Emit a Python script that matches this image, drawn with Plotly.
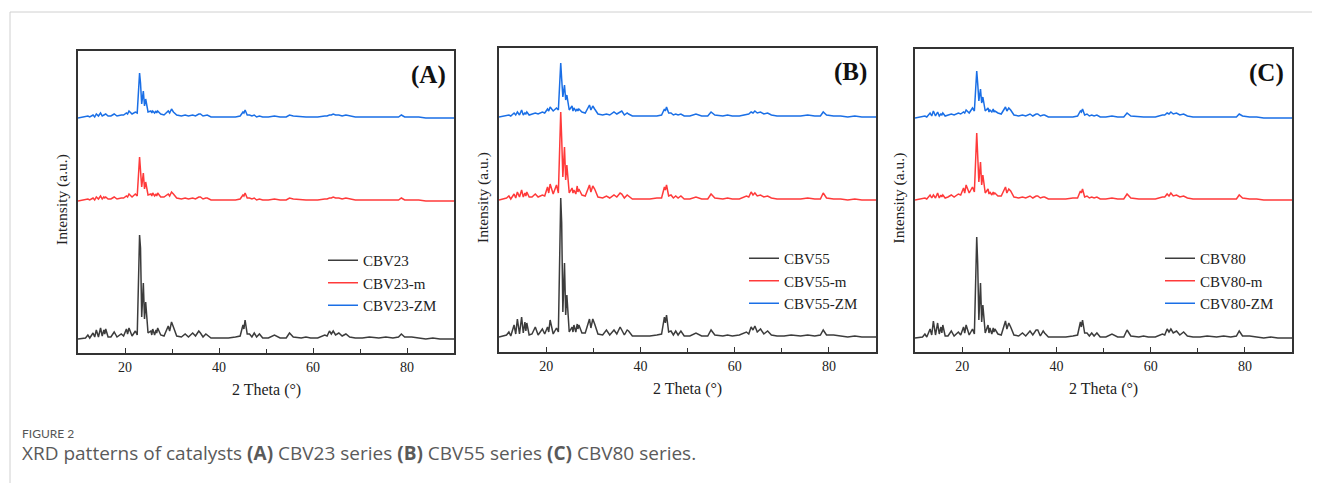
import plotly.graph_objects as go

# the page body adds an 8px margin, so the figure is drawn 8px smaller
PAGE_OFF = 8
W, H = 1320 - PAGE_OFF, 483 - PAGE_OFF

# 2-theta grid (degrees)
theta = [10.0, 11.6, 12.1, 12.5, 13.2, 13.55, 13.9, 14.35, 14.8, 15.15,
         15.5, 15.7, 15.9, 16.4, 17.0, 17.7, 18.3, 19.2, 19.7, 20.3,
         20.55, 20.85, 21.5, 22.2, 22.6, 23.1, 23.3, 23.55, 23.9, 24.15,
         24.4, 24.9, 25.5, 25.7, 25.9, 26.3, 26.6, 26.75, 26.95, 27.6,
         28.3, 29.2, 29.5, 29.9, 30.3, 31.0, 32.0, 32.8, 33.5, 34.4,
         35.0, 35.7, 36.05, 36.6, 37.2, 37.5, 38.3, 40.0, 42.0, 43.5,
         44.5, 45.1, 45.3, 45.55, 46.0, 46.5, 47.0, 47.5, 48.0, 48.6,
         49.3, 50.5, 51.8, 53.0, 54.3, 55.0, 55.8, 57.5, 58.5, 59.5,
         61.0, 62.5, 63.0, 63.5, 63.9, 64.3, 64.8, 65.5, 66.2, 67.0,
         67.8, 69.0, 70.5, 72.0, 74.0, 75.5, 77.0, 78.2, 78.8, 79.5,
         81.0, 82.5, 84.0, 85.5, 87.0, 90.0]

# intensities above each pattern's baseline (a.u.)
cbv23 = [0, 1, 4, 1, 6, 2, 9, 2, 11, 3,
         9, 5, 10, 2, 2, 7, 2, 5, 3, 10,
         5, 11, 3, 8, 4, 104, 91, 22, 56, 20,
         37, 6, 8, 4, 10, 4, 9, 6, 11, 4,
         3, 13, 8, 17, 12, 3, 2, 5, 2, 6,
         3, 8, 6, 2, 5, 4, 1, 1, 1, 2,
         3, 14, 10, 19, 5, 5, 2, 6, 2, 5,
         1, 1, 4, 1, 1, 6, 2, 1, 2, 1,
         1, 4, 3, 8, 5, 8, 4, 6, 3, 5,
         2, 1, 1, 2, 1, 2, 1, 2, 5, 2,
         2, 1, 0, 1, 0, 0]
cbv23_m = [0, 1, 2, 1, 3, 1, 4, 2, 5, 2,
           4, 3, 4, 2, 2, 4, 2, 3, 3, 5,
           4, 7, 4, 7, 5, 44, 34, 14, 28, 12,
           19, 6, 7, 5, 8, 5, 7, 5, 8, 4,
           4, 7, 5, 9, 7, 3, 2, 3, 2, 3,
           2, 4, 4, 2, 3, 3, 1, 1, 1, 1,
           2, 6, 5, 8, 3, 3, 2, 3, 1, 2,
           1, 1, 2, 1, 1, 3, 2, 1, 1, 1,
           1, 2, 2, 3, 3, 4, 3, 3, 2, 3,
           2, 1, 1, 1, 1, 1, 1, 1, 3, 1,
           1, 1, 0, 0, 0, 0]
cbv23_zm = [0, 1, 2, 1, 3, 1, 4, 2, 5, 2,
            3, 3, 4, 2, 2, 4, 2, 3, 3, 5,
            4, 7, 4, 6, 5, 45, 35, 14, 27, 12,
            19, 6, 7, 5, 7, 5, 7, 5, 7, 4,
            3, 7, 5, 9, 6, 3, 2, 3, 2, 3,
            2, 4, 4, 2, 3, 3, 1, 1, 1, 1,
            2, 6, 5, 8, 3, 3, 2, 3, 1, 2,
            1, 1, 2, 1, 1, 3, 2, 1, 1, 1,
            1, 2, 2, 3, 3, 4, 3, 3, 2, 3,
            2, 1, 1, 1, 1, 1, 1, 1, 3, 1,
            1, 1, 0, 0, 0, 0]

cbv55 = [0, 2, 5, 1, 12, 3, 18, 3, 20, 4,
         15, 6, 14, 2, 3, 10, 2, 8, 3, 10,
         5, 17, 3, 9, 5, 139, 114, 25, 74, 22,
         42, 5, 10, 5, 12, 5, 13, 8, 12, 4,
         4, 18, 9, 18, 13, 3, 2, 7, 2, 7,
         3, 10, 7, 2, 7, 6, 1, 1, 1, 2,
         3, 20, 14, 22, 5, 6, 2, 6, 2, 6,
         1, 1, 4, 1, 1, 7, 2, 1, 2, 1,
         2, 5, 3, 10, 7, 11, 5, 8, 3, 6,
         2, 1, 1, 2, 1, 2, 1, 2, 7, 2,
         2, 1, 0, 1, 0, 0]
cbv55_m = [0, 2, 4, 1, 6, 2, 8, 3, 10, 3,
           7, 4, 8, 3, 3, 6, 3, 5, 4, 13,
           7, 16, 6, 15, 7, 88, 62, 23, 53, 20,
           35, 7, 12, 7, 10, 6, 14, 8, 11, 5,
           4, 15, 8, 14, 11, 3, 2, 4, 2, 5,
           3, 7, 6, 2, 5, 4, 1, 1, 1, 2,
           2, 13, 10, 15, 4, 5, 2, 4, 2, 4,
           1, 1, 3, 1, 1, 6, 2, 1, 2, 1,
           1, 4, 3, 8, 5, 7, 4, 5, 3, 4,
           2, 1, 1, 1, 1, 2, 1, 1, 7, 2,
           1, 1, 0, 1, 0, 0]
cbv55_zm = [0, 1, 2, 1, 4, 2, 5, 2, 7, 2,
            4, 3, 5, 2, 3, 4, 3, 5, 4, 8,
            6, 10, 6, 9, 7, 54, 38, 20, 32, 17,
            22, 7, 11, 6, 9, 6, 8, 6, 8, 5,
            4, 12, 7, 11, 8, 3, 2, 3, 2, 5,
            3, 5, 6, 2, 4, 3, 1, 1, 1, 1,
            2, 8, 6, 10, 4, 4, 2, 3, 2, 3,
            1, 1, 3, 1, 1, 5, 2, 1, 2, 1,
            1, 3, 3, 5, 4, 6, 4, 5, 3, 4,
            2, 1, 1, 1, 1, 2, 1, 1, 5, 2,
            1, 1, 0, 1, 0, 0]

cbv80 = [0, 1, 4, 1, 9, 3, 17, 3, 15, 4,
         11, 5, 13, 2, 2, 7, 2, 6, 3, 11,
         5, 13, 3, 9, 4, 101, 75, 18, 55, 16,
         33, 5, 13, 5, 10, 4, 10, 6, 9, 4,
         3, 17, 9, 15, 11, 3, 2, 5, 2, 7,
         3, 8, 8, 2, 7, 5, 1, 1, 1, 2,
         3, 16, 11, 18, 5, 5, 2, 5, 2, 5,
         1, 1, 4, 1, 1, 8, 2, 1, 2, 1,
         1, 4, 3, 9, 6, 9, 5, 7, 3, 6,
         2, 1, 1, 2, 1, 2, 1, 2, 7, 2,
         2, 1, 0, 1, 0, 0]
cbv80_m = [0, 1, 2, 1, 5, 2, 5, 2, 7, 2,
           5, 3, 5, 2, 3, 5, 3, 6, 5, 12,
           7, 15, 7, 13, 8, 67, 50, 18, 38, 15,
           25, 7, 11, 6, 8, 5, 8, 6, 7, 4,
           4, 13, 7, 11, 9, 3, 2, 3, 2, 4,
           2, 4, 4, 2, 3, 3, 1, 1, 1, 2,
           2, 9, 7, 11, 3, 4, 2, 3, 2, 3,
           1, 1, 2, 1, 1, 6, 2, 1, 1, 1,
           1, 3, 3, 6, 4, 7, 4, 5, 3, 4,
           2, 1, 1, 1, 1, 1, 1, 1, 5, 2,
           1, 1, 0, 0, 0, 0]
cbv80_zm = [0, 1, 2, 1, 5, 2, 7, 2, 6, 2,
            4, 3, 5, 2, 3, 4, 3, 5, 4, 6,
            5, 8, 5, 10, 7, 47, 35, 17, 29, 15,
            21, 7, 10, 6, 8, 6, 9, 6, 7, 5,
            4, 11, 7, 10, 8, 3, 2, 3, 2, 4,
            2, 4, 4, 2, 3, 3, 1, 1, 1, 1,
            2, 7, 6, 9, 3, 4, 2, 3, 2, 3,
            1, 1, 2, 1, 1, 5, 2, 1, 1, 1,
            1, 3, 3, 5, 4, 6, 4, 5, 3, 4,
            2, 1, 1, 1, 1, 1, 1, 1, 4, 2,
            1, 1, 0, 0, 0, 0]

# vertical stacking offsets (a.u.) for each panel: [parent, -m, -ZM]
offsets_a = [14, 152, 235]
offsets_b = [15, 152, 235]
offsets_c = [14, 152, 234]

names_a = ["CBV23", "CBV23-m", "CBV23-ZM"]
names_b = ["CBV55", "CBV55-m", "CBV55-ZM"]
names_c = ["CBV80", "CBV80-m", "CBV80-ZM"]
panel_labels = ["(A)", "(B)", "(C)"]
x_ticks = [20, 40, 60, 80]

colors = ["#3c3c3c", "#ff3a3a", "#1a6fe6"]

# panel boxes in screen pixels: (left, right, top, bottom)
boxes = [(78, 454, 51, 353), (499, 876, 48, 352), (915, 1292, 49, 352)]


def px(x):
    return (x - PAGE_OFF) / W


def py(y):
    return 1 - (y - PAGE_OFF) / H


panels = [
    (names_a, [cbv23, cbv23_m, cbv23_zm], offsets_a),
    (names_b, [cbv55, cbv55_m, cbv55_zm], offsets_b),
    (names_c, [cbv80, cbv80_m, cbv80_zm], offsets_c),
]

fig = go.Figure()
serif = "Liberation Serif"
legend_pos = [(323, 244), (744, 242), (1160, 242)]

for p, (names, series, offs) in enumerate(panels):
    sfx = "" if p == 0 else str(p + 1)
    for name, vals, off, col in zip(names, series, offs, colors):
        fig.add_trace(go.Scatter(
            x=theta, y=[v + off for v in vals], mode="lines", name=name,
            line=dict(color=col, width=1.5), xaxis="x" + sfx, yaxis="y" + sfx,
            legend="legend" + sfx, showlegend=True,
        ))

layout = dict(
    width=W, height=H, margin=dict(l=0, r=0, t=0, b=0),
    paper_bgcolor="white", plot_bgcolor="white", showlegend=True,
)
annotations = []
for p, (l, r, t, b) in enumerate(boxes):
    sfx = "" if p == 0 else str(p + 1)
    hgt = b - t
    layout["xaxis" + sfx] = dict(
        domain=[px(l), px(r)], range=[10, 90], anchor="y" + sfx,
        tickvals=x_ticks, ticks="inside", ticklen=5, tickwidth=1.2,
        tickcolor="#333", showline=True, linecolor="#333", linewidth=1.5,
        mirror=True, showgrid=False, zeroline=False,
        tickfont=dict(family=serif, size=14, color="#222"),
        minor=dict(dtick=10, tick0=0, ticks="inside", ticklen=4, tickcolor="#333", tickwidth=1.2),
        automargin=False,
    )
    layout["yaxis" + sfx] = dict(
        domain=[py(b), py(t)], range=[0, hgt], anchor="x" + sfx,
        showticklabels=False, ticks="", showline=True, linecolor="#333",
        linewidth=1.5, mirror=True, showgrid=False, zeroline=False,
        automargin=False,
    )
    lx, ly = legend_pos[p]
    layout["legend" + sfx] = dict(
        x=px(lx), y=py(ly), xanchor="left", yanchor="top",
        font=dict(family=serif, size=15, color="#222"), bgcolor="rgba(0,0,0,0)",
        borderwidth=0, tracegroupgap=0,
    )
    annotations.append(dict(
        text="<b>" + panel_labels[p] + "</b>", x=px(r - 26), y=py(t + 24),
        xref="paper", yref="paper", showarrow=False, xanchor="center",
        yanchor="middle", font=dict(family=serif, size=25, color="#111"),
    ))
    annotations.append(dict(
        text="Intensity (a.u.)", x=px(l - 16), y=py((t + b) / 2 - 2),
        xref="paper", yref="paper", showarrow=False, textangle=-90,
        xanchor="center", yanchor="middle",
        font=dict(family=serif, size=15.5, color="#222"),
    ))
    annotations.append(dict(
        text="2 Theta (°)", x=px((l + r) / 2), y=py(b + 37),
        xref="paper", yref="paper", showarrow=False, xanchor="center",
        yanchor="middle", font=dict(family=serif, size=16, color="#222"),
    ))

annotations.append(dict(
    text="FIGURE 2", x=px(20), y=py(433), xref="paper", yref="paper",
    showarrow=False, xanchor="left", yanchor="middle",
    font=dict(family="Lato", size=12, color="#555"),
))
annotations.append(dict(
    text="XRD patterns of catalysts <b>(A)</b> CBV23 series <b>(B)</b> CBV55 series <b>(C)</b> CBV80 series.",
    x=px(20), y=py(453), xref="paper", yref="paper", showarrow=False,
    xanchor="left", yanchor="middle",
    font=dict(family="Open Sans", size=19, color="#5a5a5a"),
))
layout["annotations"] = annotations
layout["shapes"] = [
    dict(type="line", xref="paper", yref="paper", x0=px(10), x1=1, y0=py(12), y1=py(12),
         line=dict(color="#d0d0d0", width=1)),
    dict(type="line", xref="paper", yref="paper", x0=px(10), x1=px(10), y0=py(12), y1=0,
         line=dict(color="#d0d0d0", width=1)),
]
fig.update_layout(**layout)
fig.write_html("out.html")
